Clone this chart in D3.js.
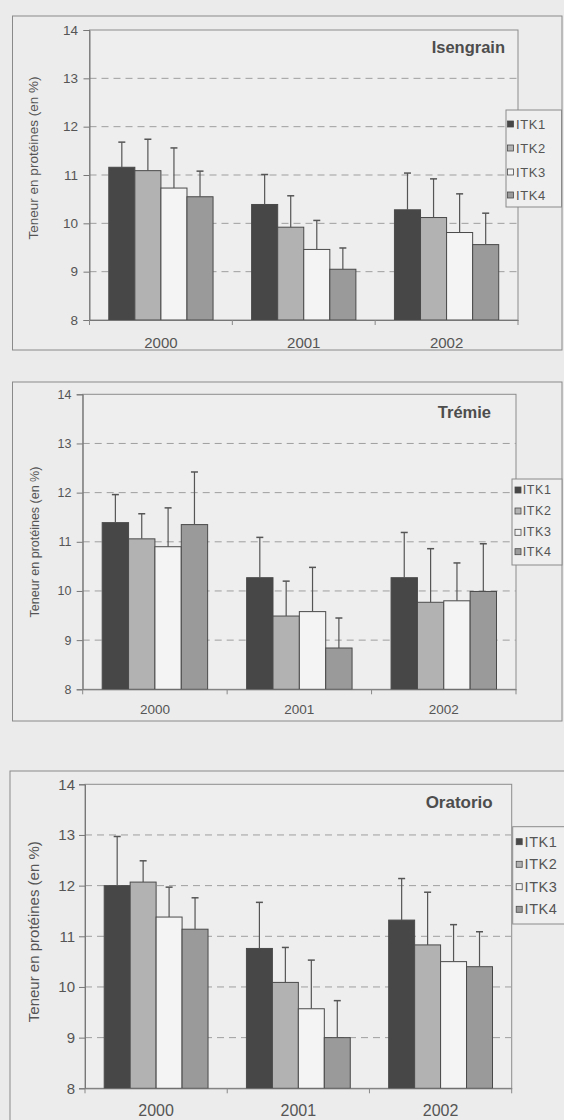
<!DOCTYPE html>
<html><head><meta charset="utf-8">
<script src="https://cdn.jsdelivr.net/npm/d3@7"></script>
<style>
html,body{margin:0;padding:0;background:#ebebeb;}
svg{display:block;}
text{font-family:"Liberation Sans",Arial,sans-serif;fill:#555;}
</style></head>
<body>
<svg id="c" width="564" height="1120"></svg>
<script>
// ---------- DATA ----------
const years = ["2000", "2001", "2002"];
const series = ["ITK1", "ITK2", "ITK3", "ITK4"];
const yTicks = [8, 9, 10, 11, 12, 13, 14];
const gridValues = [9, 10, 11, 12, 13];
const varieties = ["Isengrain", "Trémie", "Oratorio"];
const yAxisTitle = "Teneur en protéines (en %)";

// means per series (ITK) across years 2000, 2001, 2002
const isengrainMeans = [[11.16, 10.39, 10.28], [11.09, 9.92, 10.12], [10.73, 9.46, 9.81], [10.55, 9.05, 9.56]];
const isengrainErrors = [[0.52, 0.62, 0.76], [0.65, 0.65, 0.80], [0.83, 0.60, 0.80], [0.53, 0.44, 0.65]];
const tremieMeans = [[11.39, 10.27, 10.27], [11.06, 9.49, 9.77], [10.90, 9.58, 9.80], [11.35, 8.84, 9.99]];
const tremieErrors = [[0.57, 0.82, 0.92], [0.51, 0.71, 1.09], [0.79, 0.90, 0.77], [1.07, 0.61, 0.97]];
const oratorioMeans = [[12.00, 10.76, 11.32], [12.07, 10.09, 10.83], [11.38, 9.57, 10.50], [11.14, 9.00, 10.40]];
const oratorioErrors = [[0.97, 0.91, 0.82], [0.42, 0.69, 1.04], [0.59, 0.96, 0.73], [0.62, 0.73, 0.69]];

// ---------- STYLE / LAYOUT ----------
const colors = ["#474747", "#b2b2b2", "#f4f4f4", "#9a9a9a"];
const layouts = [
  {box:[12.5,16,562,350], plot:[89.5,30,518,320], leg:[506,110,561.5,207], rows:[124,148,172,195], swX:507.5, txX:516, legFont:13,
   titleX:505, titleY:47, titleFont:16.5, ytX:33, ytY:158, ytFont:13.5, tickFont:13.5, tickRight:78, yearFont:15, yearY:342},
  {box:[12.5,382,562,721], plot:[82.7,394.3,516,689.3], leg:[512,479,562,565], rows:[490,511,532.3,551.7], swX:515, txX:522.7, legFont:12.5,
   titleX:491, titleY:411.7, titleFont:16.5, ytX:34.5, ytY:542, ytFont:12.5, tickFont:12.5, tickRight:71.5, yearFont:13.5, yearY:709},
  {box:[10,771,580,1140], plot:[85,784.3,511.7,1088.3], leg:[512.7,826.7,580,924], rows:[841.7,864.3,886.7,909.3], swX:516.2, txX:524.5, legFont:14.5,
   titleX:492.7, titleY:802.5, titleFont:17, ytX:33, ytY:931.7, ytFont:15, tickFont:15, tickRight:75, yearFont:16, yearY:1110}
];
const allMeans = [isengrainMeans, tremieMeans, oratorioMeans];
const allErrors = [isengrainErrors, tremieErrors, oratorioErrors];

const svg = d3.select("#c");

layouts.forEach((L, pi) => {
  const g = svg.append("g");
  const [bx0, by0, bx1, by1] = L.box;
  g.append("rect").attr("x", bx0).attr("y", by0).attr("width", bx1 - bx0).attr("height", by1 - by0)
    .attr("fill", "#ececec").attr("stroke", "#8a8a8a").attr("stroke-width", 1);

  const [px0, py0, px1, py1] = L.plot;
  const y = d3.scaleLinear().domain([8, 14]).range([py1, py0]);
  const x0 = d3.scaleBand().domain(years).range([px0, px1]).padding(0);
  const B = x0.bandwidth();
  const x1 = d3.scaleBand().domain(series).range([B * 0.135, B * 0.865]).padding(0);

  // plot area
  g.append("rect").attr("x", px0).attr("y", py0).attr("width", px1 - px0).attr("height", py1 - py0)
    .attr("fill", "#eeeeee").attr("stroke", "#8c8c8c").attr("stroke-width", 1);

  // grid
  g.selectAll(".grid").data(gridValues).join("line")
    .attr("x1", px0).attr("x2", px1).attr("y1", d => y(d)).attr("y2", d => y(d))
    .attr("stroke", "#9e9e9e").attr("stroke-width", 1).attr("stroke-dasharray", "7,5");

  // bars
  const data = [];
  series.forEach((s, si) => years.forEach((yr, yi) => {
    data.push({s, si, yr, v: allMeans[pi][si][yi], e: allErrors[pi][si][yi]});
  }));
  g.selectAll(".bar").data(data).join("rect")
    .attr("x", d => x0(d.yr) + x1(d.s)).attr("width", x1.bandwidth())
    .attr("y", d => y(d.v)).attr("height", d => y(8) - y(d.v))
    .attr("fill", d => colors[d.si]).attr("stroke", "#4a4a4a").attr("stroke-width", 1);

  // error bars
  const cx = d => x0(d.yr) + x1(d.s) + x1.bandwidth() / 2;
  g.selectAll(".err").data(data).join("line")
    .attr("x1", cx).attr("x2", cx).attr("y1", d => y(d.v)).attr("y2", d => y(d.v + d.e))
    .attr("stroke", "#555").attr("stroke-width", 1.2);
  g.selectAll(".cap").data(data).join("line")
    .attr("x1", d => cx(d) - 3.5).attr("x2", d => cx(d) + 3.5).attr("y1", d => y(d.v + d.e)).attr("y2", d => y(d.v + d.e))
    .attr("stroke", "#555").attr("stroke-width", 1.5);

  // y axis
  const yAx = g.append("g").attr("transform", `translate(${px0},0)`)
    .call(d3.axisLeft(y).tickValues(yTicks).tickSize(6).tickPadding(px0 - 6 - L.tickRight).tickFormat(d3.format("d")));
  yAx.select(".domain").attr("stroke", "#777");
  yAx.selectAll(".tick line").attr("stroke", "#777");
  yAx.selectAll("text").attr("font-size", L.tickFont).style("fill", "#555")
    .attr("font-family", "Liberation Sans, Arial, sans-serif");

  // x axis
  const xAx = g.append("g").attr("transform", `translate(0,${py1})`)
    .call(d3.axisBottom(x0).tickSize(0).tickPadding(0));
  xAx.select(".domain").attr("stroke", "#777");
  xAx.selectAll("text").remove();
  // boundary ticks
  const bounds = years.map(yr => x0(yr)).concat([px1]);
  g.selectAll(".xb").data(bounds).join("line")
    .attr("x1", d => d).attr("x2", d => d).attr("y1", py1).attr("y2", py1 + 5)
    .attr("stroke", "#888");
  g.selectAll(".yl").data(years).join("text")
    .attr("x", d => x0(d) + B / 2).attr("y", L.yearY)
    .attr("text-anchor", "middle").attr("dominant-baseline", "central")
    .attr("font-size", L.yearFont).text(d => d);

  // y title
  g.append("text").attr("transform", `translate(${L.ytX},${L.ytY}) rotate(-90)`)
    .attr("text-anchor", "middle").attr("dominant-baseline", "central")
    .attr("font-size", L.ytFont).text(yAxisTitle);

  // variety title
  g.append("text").attr("x", L.titleX).attr("y", L.titleY)
    .attr("text-anchor", "end").attr("dominant-baseline", "central")
    .attr("font-size", L.titleFont).attr("font-weight", "bold").style("fill", "#4d4d4d").text(varieties[pi]);

  // legend
  const [lx0, ly0, lx1, ly1] = L.leg;
  g.append("rect").attr("x", lx0).attr("y", ly0).attr("width", lx1 - lx0).attr("height", ly1 - ly0)
    .attr("fill", "#efefef").attr("stroke", "#8a8a8a");
  const lg = g.selectAll(".lg").data(series).join("g");
  lg.append("rect").attr("x", L.swX).attr("y", (d, i) => L.rows[i] - 3).attr("width", 6).attr("height", 6)
    .attr("fill", (d, i) => colors[i]).attr("stroke", "#4a4a4a").attr("stroke-width", 0.8);
  lg.append("text").attr("x", L.txX).attr("y", (d, i) => L.rows[i])
    .attr("dominant-baseline", "central").attr("font-size", L.legFont).attr("letter-spacing", 0.6).text(d => d);
});
</script>
</body></html>
